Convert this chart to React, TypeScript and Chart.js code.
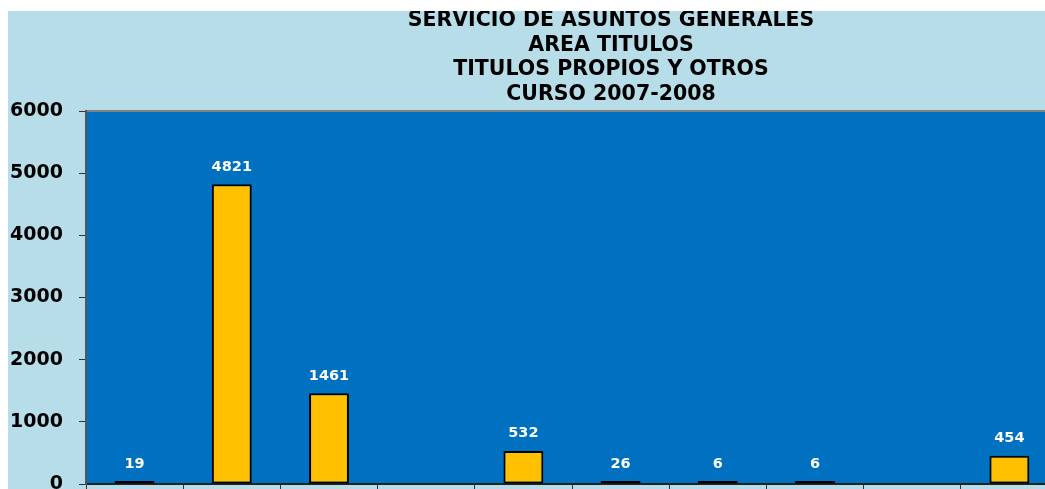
import { useEffect, useRef } from "react";
import { Chart, registerables } from "chart.js";

Chart.register(...registerables);

const titleLines = [
  "SERVICIO DE ASUNTOS GENERALES",
  "AREA TITULOS",
  "TITULOS PROPIOS Y OTROS",
  "CURSO 2007-2008",
];
const categories = ["1", "2", "3", "4", "5", "6", "7", "8", "9", "10"];
const values: (number | null)[] = [19, 4821, 1461, null, 532, 26, 6, 6, null, 454];
const yMin = 0;
const yMax = 6000;
const yStep = 1000;

const FONT = "'DejaVu Sans', sans-serif";

const backgroundPlugin = {
  id: "bgPlugin",
  beforeDraw(chart: any) {
    const { ctx, chartArea } = chart;
    ctx.save();
    ctx.fillStyle = "#B7DDE8";
    ctx.fillRect(0, 0, chart.width, chart.height);
    ctx.fillStyle = "#0070C0";
    ctx.fillRect(chartArea.left, chartArea.top, chartArea.right - chartArea.left, chartArea.bottom - chartArea.top);
    ctx.strokeStyle = "#808080";
    ctx.lineWidth = 2;
    ctx.beginPath();
    ctx.moveTo(chartArea.left, chartArea.top);
    ctx.lineTo(chartArea.right, chartArea.top);
    ctx.stroke();
    ctx.restore();
  },
};

const titlePlugin = {
  id: "titlePlugin",
  afterDraw(chart: any) {
    const { ctx } = chart;
    ctx.save();
    ctx.fillStyle = "#000000";
    ctx.font = `bold 20.5px ${FONT}`;
    ctx.textAlign = "center";
    ctx.textBaseline = "alphabetic";
    titleLines.forEach((line, i) => {
      ctx.fillText(line, 603, 15 + i * 24.5);
    });
    ctx.restore();
  },
};

const valueLabelPlugin = {
  id: "valueLabels",
  afterDatasetsDraw(chart: any) {
    const { ctx } = chart;
    const meta = chart.getDatasetMeta(0);
    const data = chart.data.datasets[0].data;
    ctx.save();
    ctx.fillStyle = "#FFFFFF";
    ctx.font = `bold 14.5px ${FONT}`;
    ctx.textAlign = "center";
    ctx.textBaseline = "alphabetic";
    meta.data.forEach((bar: any, i: number) => {
      const v = data[i];
      if (v === null || v === undefined) return;
      ctx.fillText(String(v), bar.x, bar.y - 13.5);
    });
    ctx.restore();
  },
};

export default function App() {
  const canvasRef = useRef<HTMLCanvasElement | null>(null);

  useEffect(() => {
    if (!canvasRef.current) return;
    const chart = new Chart(canvasRef.current, {
      type: "bar",
      data: {
        labels: categories,
        datasets: [
          {
            data: values,
            backgroundColor: "#FFC000",
            borderColor: "#000000",
            borderWidth: 2,
            borderSkipped: false,
            minBarLength: 3,
            categoryPercentage: 1,
            barPercentage: 0.41,
          },
        ],
      },
      options: {
        responsive: false,
        animation: false,
        layout: { padding: { top: 100, right: 10, left: 0, bottom: 0 } },
        plugins: {
          legend: { display: false },
          title: { display: false },
          tooltip: { enabled: false },
        },
        scales: {
          x: {
            type: "category",
            offset: true,
            grid: {
              offset: true,
              drawOnChartArea: false,
              drawTicks: true,
              tickLength: 6,
              color: "#333333",
              lineWidth: 1,
            },
            border: { color: "#222222", width: 2 },
            ticks: { display: false },
            afterFit: (s: any) => {
              s.height = 5;
              s.paddingLeft = 0;
              s.paddingRight = 0;
            },
          },
          y: {
            min: yMin,
            max: yMax,
            grid: {
              drawOnChartArea: false,
              drawTicks: true,
              tickLength: 7,
              color: "#333333",
              lineWidth: 1,
            },
            border: { color: "#555555", width: 2 },
            ticks: {
              stepSize: yStep,
              padding: 16,
              color: "#000000",
              font: { family: FONT, size: 19, weight: "bold" },
              callback: (v: any) => String(v),
            },
            afterFit: (s: any) => {
              s.width = 78;
              s.paddingTop = 0;
              s.paddingBottom = 0;
            },
          },
        },
      },
      plugins: [backgroundPlugin, titlePlugin, valueLabelPlugin],
    } as any);
    return () => chart.destroy();
  }, []);

  return (
    <div
      style={{
        position: "fixed",
        left: 8,
        top: 11,
        width: 1037,
        height: 478,
        overflow: "hidden",
        background: "#B7DDE8",
      }}
    >
      <canvas ref={canvasRef} width={1060} height={478} style={{ display: "block" }} />
    </div>
  );
}
